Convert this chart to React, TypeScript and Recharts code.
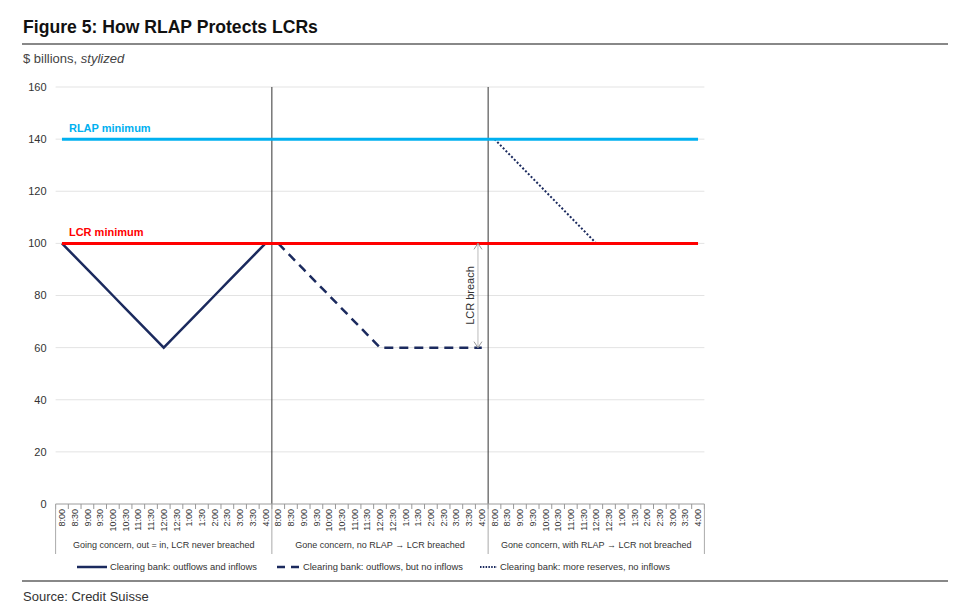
import {
  CartesianGrid,
  Line,
  LineChart,
  ReferenceLine,
  XAxis,
  YAxis,
} from "recharts";

const times = [
  "8:00", "8:30", "9:00", "9:30", "10:00", "10:30", "11:00", "11:30", "12:00",
  "12:30", "1:00", "1:30", "2:00", "2:30", "3:00", "3:30", "4:00",
];
const groups = [
  "Going concern, out = in, LCR never breached",
  "Gone concern, no RLAP \u2192 LCR breached",
  "Gone concern, with RLAP \u2192 LCR not breached",
];
const outflowsAndInflows = [100, 95, 90, 85, 80, 75, 70, 65, 60, 65, 70, 75, 80, 85, 90, 95, 100];
const outflowsNoInflows = [100, 95, 90, 85, 80, 75, 70, 65, 60, 60, 60, 60, 60, 60, 60, 60, 60];
const moreReserves = [140, 135, 130, 125, 120, 115, 110, 105, 100, 100, 100, 100, 100, 100, 100, 100, 100];
const yTicks = [0, 20, 40, 60, 80, 100, 120, 140, 160];
const rlapMinimum = 140;
const lcrMinimum = 100;
const breachTop = 100;
const breachBottom = 60;

const NAVY = "#1b2a5e";
const BLUE = "#00b0f0";
const RED = "#ff0000";

const W = 960;
const H = 616;
const PLOT_LEFT = 55.6;
const PLOT_RIGHT = 704.4;
const PLOT_TOP = 87;
const PLOT_BOTTOM = 504;
const N = groups.length * times.length;
const HALF = (PLOT_RIGHT - PLOT_LEFT) / N / 2;
const X_AXIS_H = 60;

const data = groups.flatMap((_, g) =>
  times.map((t, k) => ({
    i: g * times.length + k,
    time: t,
    going: g === 0 ? outflowsAndInflows[k] : null,
    noRlap: g === 1 ? outflowsNoInflows[k] : null,
    withRlap: g === 2 ? moreReserves[k] : null,
  }))
);

function TimeTick(props: any) {
  const { x, y, payload } = props;
  const i = payload.value as number;
  const k = i % times.length;
  const g = Math.floor(i / times.length);
  const last = i === N - 1;
  return (
    <g>
      <line x1={x - HALF} x2={x - HALF} y1={y} y2={y + 5} stroke="#999" />
      {last && <line x1={x + HALF} x2={x + HALF} y1={y} y2={y + 5} stroke="#999" />}
      {k === 0 && <line x1={x - HALF} x2={x - HALF} y1={y} y2={y + 50} stroke="#aaa" />}
      {last && <line x1={x + HALF} x2={x + HALF} y1={y} y2={y + 50} stroke="#aaa" />}
      <text
        transform={`translate(${x},${y + 5}) rotate(-90)`}
        textAnchor="end"
        dy="0.35em"
        fontSize={9}
        fill="#333"
      >
        {times[k]}
      </text>
      {k === 8 && (
        <text x={x} y={y + 44} textAnchor="middle" fontSize={9} fill="#333">
          {groups[g]}
        </text>
      )}
    </g>
  );
}

function BreachArrow(props: any) {
  const { x1, y1, x2, y2 } = props;
  const top = Math.min(y1, y2);
  const bottom = Math.max(y1, y2);
  return (
    <g>
      <line x1={x1} x2={x2} y1={top} y2={bottom} stroke="#bbb" strokeWidth={1} />
      <polyline points={`${x1 - 4},${top + 6} ${x1},${top} ${x1 + 4},${top + 6}`} fill="none" stroke="#999" />
      <polyline points={`${x1 - 4},${bottom - 6} ${x1},${bottom} ${x1 + 4},${bottom - 6}`} fill="none" stroke="#999" />
      <text
        transform={`translate(${x1 - 8},${(top + bottom) / 2}) rotate(-90)`}
        textAnchor="middle"
        dy="0.35em"
        fontSize={11}
        fill="#333"
      >
        LCR breach
      </text>
    </g>
  );
}

const legendItems = [
  { label: "Clearing bank: outflows and inflows", dash: undefined, width: 2.5, w: 30, gap: 20 },
  { label: "Clearing bank: outflows, but no inflows", dash: "8 6", width: 2.5, w: 23, gap: 17 },
  { label: "Clearing bank: more reserves, no inflows", dash: "1.5 1.3", width: 2, w: 17, gap: 0 },
];

export default function App() {
  return (
    <div
      style={{
        position: "absolute",
        top: 0,
        left: 0,
        width: W,
        height: H,
        background: "#fff",
        fontFamily: "'Liberation Sans', Arial, sans-serif",
        color: "#222",
      }}
    >
      <div style={{ position: "absolute", left: 23, top: 17, fontSize: 17.6, fontWeight: "bold", color: "#111" }}>
        Figure 5: How RLAP Protects LCRs
      </div>
      <div style={{ position: "absolute", left: 22, top: 43, width: 926, height: 1.5, background: "#888" }} />
      <div style={{ position: "absolute", left: 23, top: 51, fontSize: 13, color: "#444" }}>
        $ billions, <i>stylized</i>
      </div>

      <div style={{ position: "absolute", left: 0, top: 0 }}>
        <LineChart
          width={W}
          height={H}
          data={data}
          margin={{ top: PLOT_TOP, right: W - PLOT_RIGHT, bottom: H - PLOT_BOTTOM - X_AXIS_H, left: 0 }}
        >
          <CartesianGrid vertical={false} stroke="#e3e3e3" />
          <XAxis
            dataKey="i"
            type="number"
            domain={[-0.5, N - 0.5]}
            ticks={data.map((d) => d.i)}
            interval={0}
            height={X_AXIS_H}
            tickSize={0}
            tickMargin={0}
            tickLine={false}
            axisLine={{ stroke: "#aaa" }}
            tick={<TimeTick />}
          />
          <YAxis
            width={PLOT_LEFT}
            domain={[0, 160]}
            ticks={yTicks}
            axisLine={false}
            tickLine={false}
            tickSize={0}
            tickMargin={9}
            tick={{ fontSize: 11, fill: "#333" }}
          />
          <ReferenceLine x={16.5} stroke="#333" strokeWidth={1} />
          <ReferenceLine x={33.5} stroke="#333" strokeWidth={1} />
          <Line
            dataKey="going"
            stroke={NAVY}
            strokeWidth={2.5}
            dot={false}
            isAnimationActive={false}
          />
          <Line
            dataKey="noRlap"
            stroke={NAVY}
            strokeWidth={2.5}
            strokeDasharray="9 6"
            dot={false}
            isAnimationActive={false}
          />
          <Line
            dataKey="withRlap"
            stroke={NAVY}
            strokeWidth={2}
            strokeDasharray="2 2"
            dot={false}
            isAnimationActive={false}
          />
          <ReferenceLine
            segment={[{ x: 0, y: rlapMinimum }, { x: N - 1, y: rlapMinimum }]}
            stroke={BLUE}
            strokeWidth={3}
            label={{ value: "RLAP minimum", position: "insideBottomLeft", offset: 7, fill: BLUE, fontSize: 11, fontWeight: "bold" }}
          />
          <ReferenceLine
            segment={[{ x: 0, y: lcrMinimum }, { x: N - 1, y: lcrMinimum }]}
            stroke={RED}
            strokeWidth={3}
            label={{ value: "LCR minimum", position: "insideBottomLeft", offset: 7, fill: RED, fontSize: 11, fontWeight: "bold" }}
          />
          <ReferenceLine
            segment={[{ x: 32.7, y: breachTop }, { x: 32.7, y: breachBottom }]}
            shape={BreachArrow}
          />
        </LineChart>
      </div>

      <div
        style={{
          position: "absolute",
          top: 561,
          left: 77,
          display: "flex",
          fontSize: 9.4,
          color: "#333",
        }}
      >
        {legendItems.map((it) => (
          <div key={it.label} style={{ display: "flex", alignItems: "center", gap: 3, marginRight: it.gap }}>
            <svg width={it.w} height={10}>
              <line x1={0} x2={it.w} y1={5} y2={5} stroke={NAVY} strokeWidth={it.width} strokeDasharray={it.dash} />
            </svg>
            <span>{it.label}</span>
          </div>
        ))}
      </div>

      <div style={{ position: "absolute", left: 22, top: 580, width: 926, height: 1.5, background: "#888" }} />
      <div style={{ position: "absolute", left: 23, top: 589, fontSize: 13, color: "#333" }}>
        Source: Credit Suisse
      </div>
    </div>
  );
}
